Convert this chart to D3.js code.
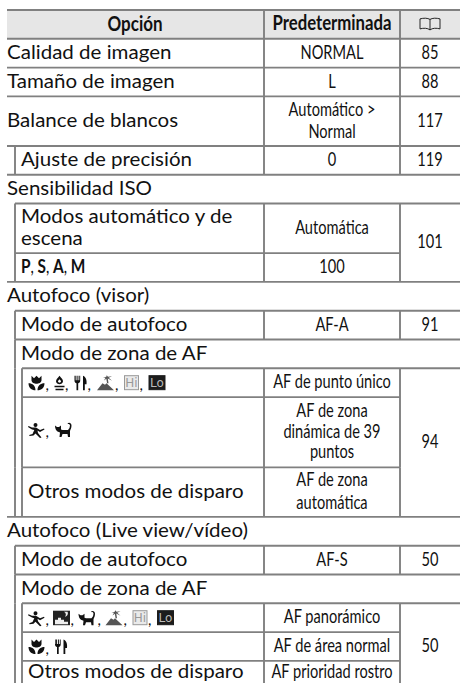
<!DOCTYPE html>
<html lang="es">
    <head>
        <title>Opciones predeterminadas</title>
        <meta charset="utf-8">
        <script src="https://d3js.org/d3.v7.min.js"></script>
        <style>
            body { margin: 0; padding: 0; background: white; overflow: hidden; }
            svg { display: block; }
            text { fill: #111; font-family: Lato, "Open Sans", sans-serif; }
        </style>
    </head>
    <body>
    <div id="container"></div>
    <script>
        // table content, one entry per row
        const optionText = [
            ["Opción"], ["Calidad de imagen"], ["Tamaño de imagen"], ["Balance de blancos"],
            ["Ajuste de precisión"], ["Sensibilidad ISO"], ["Modos automático y de", "escena"],
            ["P, S, A, M"], ["Autofoco (visor)"], ["Modo de autofoco"], ["Modo de zona de AF"],
            [], [], ["Otros modos de disparo"], ["Autofoco (Live view/vídeo)"],
            ["Modo de autofoco"], ["Modo de zona de AF"], [], [], ["Otros modos de disparo"]
        ];
        const optionIcons = [
            null, null, null, null, null, null, null, null, null, null, null,
            ["flower", "candle", "cutlery", "beach", "hi", "lo"],
            ["runner", "cat"],
            null, null, null, null,
            ["runner", "night", "cat", "beach", "hi", "lo"],
            ["flower", "cutlery"],
            null
        ];
        const indentLevel = [0, 0, 0, 0, 1, 0, 1, 1, 0, 1, 1, 2, 2, 2, 0, 1, 1, 2, 2, 2];
        const defaultText = [
            ["Predeterminada"], ["NORMAL"], ["L"], ["Automático >", "Normal"], ["0"], null,
            ["Automática"], ["100"], null, ["AF-A"], null, ["AF de punto único"],
            ["AF de zona", "dinámica de 39", "puntos"], ["AF de zona", "automática"], null,
            ["AF-S"], null, ["AF panorámico"], ["AF de área normal"], ["AF prioridad rostro"]
        ];
        // page number, with how many rows it spans
        const pageText = ["", "85", "88", "117", "119", null, "101", null, null, "91", null, "94", null, null, null, "50", null, "50", null, null];
        const pageSpan = [1, 1, 1, 1, 1, 0, 2, 0, 0, 1, 0, 3, 0, 0, 0, 1, 0, 3, 0, 0];
        const rowLines = [1, 1, 1, 2, 1, 1, 2, 1, 1, 1, 1, 1, 3, 2, 1, 1, 1, 1, 1, 1];

        const w = 460;
        const h = 683;
        const lineColor = "#808080";
        const sansSize = 19;
        const sansStretch = 1.08;
        const narrowSize = 18.5;
        const narrowStretch = 0.79;

        // row edges in row units, a second line of text adds 0.72 of a row
        const rowEdges = d3.cumsum(rowLines, n => 1 + (n - 1) * 0.72);
        const edges = [0, ...rowEdges];
        const yScale = d3.scaleLinear().domain([0, d3.max(edges)]).range([10, 689.7]);
        const indentScale = d3.scaleOrdinal().domain([0, 1, 2]).range([7, 15, 22]);
        const textIndent = d3.scaleOrdinal().domain([0, 1, 2]).range([7, 21, 28]);
        const colScale = d3.scaleOrdinal()
            .domain(["default", "page", "end"])
            .range([264, 400, 460]);

        const svg = d3.select("#container").append("svg").attr("width", w).attr("height", h);

        const isSection = i => defaultText[i] === null;

        // header band
        svg.append("rect")
            .attr("x", indentScale(0))
            .attr("y", yScale(edges[0]))
            .attr("width", colScale("end") - indentScale(0))
            .attr("height", yScale(edges[1]) - yScale(edges[0]))
            .attr("fill", "#e6e6e6");

        const lines = svg.append("g").attr("stroke", lineColor).attr("stroke-width", 1.9);

        // horizontal rules, one along the top of each row
        const rowIndex = d3.range(rowLines.length);
        lines.selectAll(".rule")
            .data(rowIndex)
            .enter().append("line")
            .attr("class", "rule")
            .attr("x1", i => {
                if (i === 0 || isSection(i - 1)) return indentScale(indentLevel[i]);
                return indentScale(Math.min(indentLevel[i], indentLevel[i - 1]));
            })
            .attr("x2", i => pageText[i] === null && !isSection(i) ? colScale("page") : colScale("end"))
            .attr("y1", i => yScale(edges[i]))
            .attr("y2", i => yScale(edges[i]));

        // column rules, only on rows with values
        ["default", "page"].forEach(col => {
            lines.selectAll(".col-" + col)
                .data(rowIndex.filter(i => !isSection(i)))
                .enter().append("line")
                .attr("x1", colScale(col))
                .attr("x2", colScale(col))
                .attr("y1", i => yScale(edges[i]))
                .attr("y2", i => yScale(edges[i + 1]));
        });

        // indent rules to the left of nested rows
        [1, 2].forEach(level => {
            lines.selectAll(".indent-" + level)
                .data(rowIndex.filter(i => indentLevel[i] >= level))
                .enter().append("line")
                .attr("x1", indentScale(level))
                .attr("x2", indentScale(level))
                .attr("y1", i => yScale(edges[i]))
                .attr("y2", i => yScale(edges[i + 1]));
        });

        // the last row runs off the page, centre text in the part that shows
        const rowMiddle = i => (yScale(edges[i]) + Math.min(yScale(edges[i + 1]), h)) / 2;

        // narrow text for the two value columns
        const narrowText = (x, y, str, size, bold, anchor) => svg.append("text")
            .attr("transform", `translate(${x},${y}) scale(${narrowStretch},1)`)
            .attr("text-anchor", anchor || "middle")
            .attr("font-size", size)
            .attr("font-weight", bold ? 700 : 400)
            .text(str);

        const centerOf = col => col === "default"
            ? (colScale("default") + colScale("page")) / 2
            : (colScale("page") + colScale("end")) / 2;

        // first column
        optionText.forEach((textLines, i) => {
            textLines.forEach((str, k) => {
                const base = rowMiddle(i) + 5.8 + (k - (textLines.length - 1) / 2) * 22;
                if (i === 0) {
                    narrowText(135, base + 0.5, str, 21.5, true);
                } else if (str === "P, S, A, M") {
                    const t = narrowText(textIndent(indentLevel[i]), base, "", narrowSize, false, "start");
                    str.split(", ").forEach((part, n, all) => {
                        t.append("tspan").attr("font-weight", 700).attr("font-size", 19.5).text(part);
                        if (n < all.length - 1) t.append("tspan").text(", ");
                    });
                } else {
                    svg.append("text")
                        .attr("transform", `translate(${textIndent(indentLevel[i])},${base}) scale(${sansStretch},1)`)
                        .attr("font-size", sansSize)
                        .text(str);
                }
            });
        });

        // second column, two line cells are set looser than three line ones
        defaultText.forEach((textLines, i) => {
            if (!textLines) return;
            const leading = textLines.length === 3 ? 20.5 : 22.5;
            textLines.forEach((str, k) => {
                const base = rowMiddle(i) + 5.6 + (k - (textLines.length - 1) / 2) * leading;
                narrowText(centerOf("default"), base, str, i === 0 ? 21.2 : narrowSize, i === 0);
            });
        });

        // page column, span rows are centred over all their rows
        pageText.forEach((str, i) => {
            if (!str) return;
            const y = (yScale(edges[i]) + yScale(edges[i + pageSpan[i]])) / 2 + 5.6;
            narrowText(centerOf("page"), y, str, narrowSize, false);
        });

        // book glyph in the header
        svg.append("path")
            .attr("transform", `translate(${centerOf("page") - 10.5},${rowMiddle(0) - 7})`)
            .attr("d", "M0.5 1.5C4 0.5 8 0.5 10.5 2C13 0.5 17 0.5 20.5 1.5V11.5C17 10.5 13 10.5 10.5 12.5C8 10.5 4 10.5 0.5 11.5ZM10.5 2V12.5")
            .attr("fill", "none")
            .attr("stroke", "#111")
            .attr("stroke-width", 0.9);

        // small mode glyphs, drawn in a 16 tall box
        const glyphs = {
            flower: { w: 17, d: "M8.5 1L6 3.5L3.5 1V5.5C3.5 8 6.5 9 8.5 9C10.5 9 13.5 8 13.5 5.5V1L11 3.5ZM0.5 8.5C4.5 8.5 7.5 11 7.5 15.5C3.5 15.5 0.5 13 0.5 8.5ZM16.5 8.5C12.5 8.5 9.5 11 9.5 15.5C13.5 15.5 16.5 13 16.5 8.5Z" },
            candle: { w: 10, d: "M5 1C7 3.5 8.5 4.5 8.5 6.5C8.5 8.5 6.5 9.5 5 9.5C3.5 9.5 1.5 8.5 1.5 6.5C1.5 4.5 3 3.5 5 1ZM5 4.5C4 5.5 3.5 6 3.5 6.8C3.5 7.5 4.3 8 5 8C5.7 8 6.5 7.5 6.5 6.8C6.5 6 6 5.5 5 4.5ZM0 11H10V12.6H0ZM1 14H9V15.6H1Z" },
            cutlery: { w: 13, d: "M0.5 1V6C0.5 7.5 1.5 8.3 2.5 8.5V15.5H4.2V8.5C5.2 8.3 6.2 7.5 6.2 6V1H5.3V5.5H4.4V1H3.4V5.5H2.4V1H1.5V5.5H1.2V1ZM9 1C12 2 13 6 12.5 9.5H10.8V15.5H9Z" },
            beach: { w: 18, d: "M0.5 15.5L6 8.5L8.5 10L10 8.5L17.5 15.5ZM10.6 8.5L9.8 4L7.5 5.8L9 3L6.5 2.8L9.8 2L10.2 0.5L11.5 2L15.5 1.5L12.2 3L15.5 6L11.3 3.8L12 8.5Z", fill: "#555" },
            runner: { w: 17, d: "M7.5 1.5A2 2 0 1 1 7.5 5.5A2 2 0 1 1 7.5 1.5ZM0.5 4.5L4 6L8 6L12 8.5L16 7L16.5 8L12 10.5L9.5 9L10 11.5L13.5 16L12 16.5L7.5 12L5.5 14L1.5 14.5L1.2 13.5L4.5 12.3L6.3 8.5L4 7.8L0 5.5Z" },
            cat: { w: 19, d: "M0.5 4L2.5 5.5L4.5 5.5L6.5 4L6.5 8L8 8.5L13.5 8.5L15 6.5L15.5 4C15.5 2.5 14 2 13.5 2.5L13 2C14 0.5 17 1 17 4C17 6.5 16 8 15.5 9.5V15.5H13.5L13 12.5H8L7 15.5H5L5.5 11L3 10C1.5 9 0.5 7 0.5 4Z" },
            night: { w: 17, box: "#222", d: "M2 10H5V8H8V10H11V12H15V14.5H2Z M11 2C13 3 13.5 5 12 7C14.5 6.5 15.5 4 14.5 2Z", fill: "#eee" }
        };

        const commaSize = 15;
        const drawGlyphRow = (names, i) => {
            const cy = rowMiddle(i);
            const top = names.length === 2 && names[0] === "runner" ? yScale(edges[i]) + 24.5 : cy - 8;
            let x = textIndent(2);
            names.forEach((name, n) => {
                const g = svg.append("g").attr("transform", `translate(${x},${top})`);
                let width;
                if (name === "hi" || name === "lo") {
                    width = name === "hi" ? 15 : 17;
                    g.append("rect")
                        .attr("x", 0.5).attr("y", 1).attr("width", width - 1).attr("height", 14)
                        .attr("fill", name === "hi" ? "#eaeaea" : "#1c1c1c")
                        .attr("stroke", name === "hi" ? "#999" : "#1c1c1c");
                    g.append("text")
                        .attr("x", width / 2).attr("y", 12.5)
                        .attr("text-anchor", "middle")
                        .attr("font-size", 12)
                        .style("font-family", "DejaVu Sans")
                        .attr("font-weight", 400)
                        .style("fill", name === "hi" ? "#999" : "#bbb")
                        .text(name === "hi" ? "Hi" : "Lo");
                } else {
                    const glyph = glyphs[name];
                    width = glyph.w;
                    if (glyph.box) g.append("rect").attr("y", 1).attr("width", width).attr("height", 14.5).attr("fill", glyph.box);
                    g.append("path").attr("d", glyph.d).attr("fill", glyph.fill || "#111").attr("fill-rule", "evenodd");
                }
                x += width;
                if (n < names.length - 1) {
                    svg.append("text").attr("x", x + 0.5).attr("y", top + 15.5).attr("font-size", commaSize).text(",");
                    // the night row is set a little tighter
                    x += names.includes("night") && n < 3 ? 8 : 9.5;
                }
            });
        };
        optionIcons.forEach((names, i) => { if (names) drawGlyphRow(names, i); });
    </script>
    </body>
</html>
